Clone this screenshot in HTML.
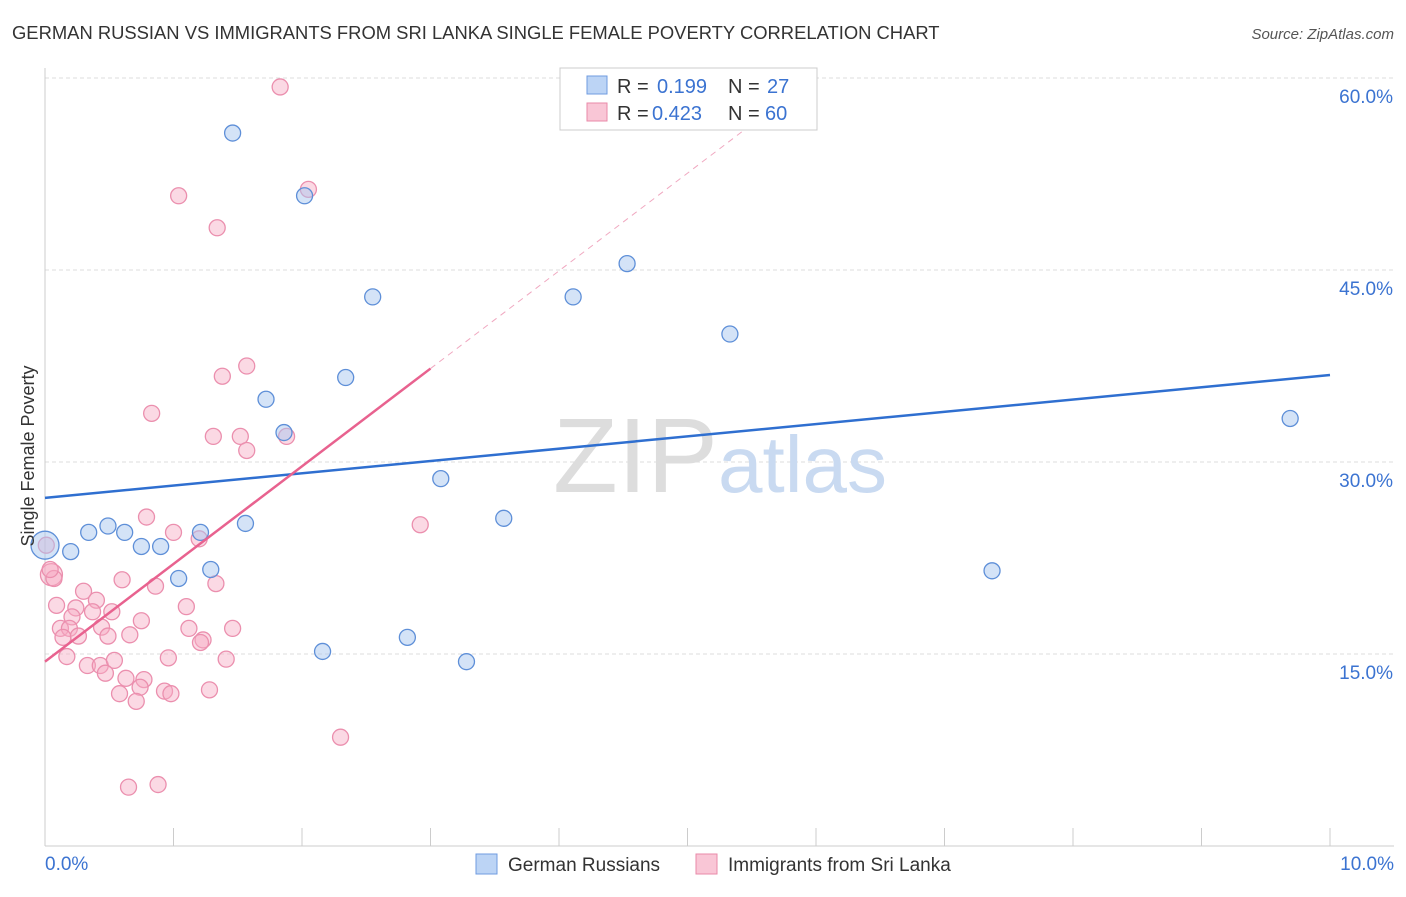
<!DOCTYPE html>
<html><head><meta charset="utf-8"><style>
body{margin:0;background:#fff;font-family:"Liberation Sans",sans-serif;}
svg text{font-family:"Liberation Sans",sans-serif;}
</style></head><body>
<svg id="chart" width="1406" height="892" viewBox="0 0 1406 892">
<text x="12" y="39" font-size="18.4" fill="#333">GERMAN RUSSIAN VS IMMIGRANTS FROM SRI LANKA SINGLE FEMALE POVERTY CORRELATION CHART</text>
<text x="1394" y="39" font-size="15" fill="#555" font-style="italic" text-anchor="end">Source: ZipAtlas.com</text>
<g id="grid"></g>
<g id="axes"></g>
<text x="553" y="492" font-size="106" fill="#ddd" font-family="Liberation Serif">ZIP</text>
<text x="718" y="492" font-size="80" fill="#c9daf1">atlas</text>
<g id="marks"></g>
<text transform="translate(34,456) rotate(-90)" font-size="18" fill="#333" text-anchor="middle">Single Female Poverty</text>
<g>
<rect x="560" y="68" width="257" height="62" fill="#fff" stroke="#ccc"/>
<rect x="587" y="76" width="20" height="18" fill="#bcd4f5" stroke="#6f9be0"/>
<text x="617" y="93" font-size="20" fill="#333">R =</text>
<text x="657" y="93" font-size="20" fill="#3b73d1">0.199</text>
<text x="728" y="93" font-size="20" fill="#333">N =</text>
<text x="767" y="93" font-size="20" fill="#3b73d1">27</text>
<rect x="587" y="103" width="20" height="18" fill="#f9c6d6" stroke="#e98aa8"/>
<text x="617" y="120" font-size="20" fill="#333">R =</text>
<text x="652" y="120" font-size="20" fill="#3b73d1">0.423</text>
<text x="728" y="120" font-size="20" fill="#333">N =</text>
<text x="765" y="120" font-size="20" fill="#3b73d1">60</text>
</g>
<g>
<rect x="476" y="854" width="21" height="20" fill="#bcd4f5" stroke="#6f9be0"/>
<text x="508" y="871" font-size="19" fill="#333">German Russians</text>
<rect x="696" y="854" width="21" height="20" fill="#f9c6d6" stroke="#e98aa8"/>
<text x="728" y="871" font-size="19" fill="#333">Immigrants from Sri Lanka</text>
</g>
</svg>
<script>
const xTicks=[0,1,2,3,4,5,6,7,8,9,10];
const yTicks=[15,30,45,60];
const yTickLabels=["15.0%","30.0%","45.0%","60.0%"];
const blueX=[0,0.2,0.34,0.49,0.62,0.75,0.9,1.04,1.21,1.29,1.46,1.56,1.72,1.86,2.02,2.16,2.34,2.55,2.82,3.08,3.28,3.57,4.11,4.53,5.33,7.37,9.69];
const blueY=[23.5,23.0,24.5,25.0,24.5,23.4,23.4,20.9,24.5,21.6,55.7,25.2,34.9,32.3,50.8,15.2,36.6,42.9,16.3,28.7,14.4,25.6,42.9,45.5,40.0,21.5,33.4];
const pinkX=[1.83,2.05,1.04,1.34,1.57,1.38,0.83,1.31,1.52,1.57,1.88,2.92,0.79,1.0,1.2,0.05,0.07,0.6,0.86,1.33,0.3,0.4,0.09,0.24,0.37,0.52,1.1,0.21,0.75,0.12,0.19,0.44,1.12,1.46,0.14,0.26,0.49,0.66,1.23,1.21,0.17,0.33,0.43,0.54,0.96,1.41,0.47,0.63,0.77,0.74,0.58,0.93,0.98,1.28,0.71,2.3,0.65,0.88,0.04,0.01];
const pinkY=[59.3,51.3,50.8,48.3,37.5,36.7,33.8,32.0,32.0,30.9,32.0,25.1,25.7,24.5,24.0,21.2,20.9,20.8,20.3,20.5,19.9,19.2,18.8,18.6,18.3,18.3,18.7,17.9,17.6,17.0,17.0,17.1,17.0,17.0,16.3,16.4,16.4,16.5,16.1,15.9,14.8,14.1,14.1,14.5,14.7,14.6,13.5,13.1,13.0,12.4,11.9,12.1,11.9,12.2,11.3,8.5,4.6,4.8,21.6,23.5];
const blueTrend=[27.2,36.8];
const pinkTrend=[14.4,37.3];
const NS="http://www.w3.org/2000/svg";
const xs=v=>45+v*128.5, ys=v=>846-v*12.8;
function mk(tag,attrs,parent){const e=document.createElementNS(NS,tag);for(const k in attrs)e.setAttribute(k,attrs[k]);parent.appendChild(e);return e;}
const grid=document.getElementById('grid'),axes=document.getElementById('axes'),marks=document.getElementById('marks');
yTicks.forEach((t,i)=>{
 const l=mk('line',{x1:45,x2:1394,y1:ys(t),y2:ys(t),stroke:'#ddd','stroke-dasharray':'4,3'},grid);
 
 
 const tx=mk('text',{x:1393,y:ys(t)+25,'font-size':19,fill:'#3b73d1','text-anchor':'end'},axes);
 tx.textContent=yTickLabels[i];
 
 
});
mk('line',{x1:45,x2:45,y1:68,y2:846,stroke:'#ccc'},axes);
mk('line',{x1:45,x2:1394,y1:846,y2:846,stroke:'#ccc'},axes);
xTicks.forEach(t=>{
 const l=mk('line',{x1:xs(t),x2:xs(t),y1:828,y2:846,stroke:'#ccc'},axes);
 
 
});
const xl0=mk('text',{x:45,y:870,'font-size':19,fill:'#3b73d1'},axes);xl0.textContent="0.0%";


const xl1=mk('text',{x:1394,y:870,'font-size':19,fill:'#3b73d1','text-anchor':'end'},axes);xl1.textContent="10.0%";


pinkX.forEach((x,i)=>{
 const c=mk('circle',{cx:xs(x),cy:ys(pinkY[i]),r:(i==15?11:8),fill:'rgba(246,170,195,0.45)',stroke:'#eb8fae','stroke-width':1.3},marks);
 
 
});
blueX.forEach((x,i)=>{
 const c=mk('circle',{cx:xs(x),cy:ys(blueY[i]),r:(i==0?14:8),fill:'rgba(170,200,240,0.5)',stroke:'#5e8fd8','stroke-width':1.3},marks);
 
 
});
const bl=mk('line',{x1:xs(0),y1:ys(blueTrend[0]),x2:xs(10),y2:ys(blueTrend[1]),stroke:'#2f6fd0','stroke-width':2.5},marks);


const pslope=(pinkTrend[1]-pinkTrend[0])/3;
const pd=mk('line',{x1:xs(3),y1:ys(pinkTrend[1]),x2:xs(3+(60-pinkTrend[1])/pslope),y2:ys(60),stroke:'#f0a8c0','stroke-width':1,'stroke-dasharray':'6,5'},marks);


const pl=mk('line',{x1:xs(0),y1:ys(pinkTrend[0]),x2:xs(3),y2:ys(pinkTrend[1]),stroke:'#e8628f','stroke-width':2.5},marks);


</script>
</body></html>
